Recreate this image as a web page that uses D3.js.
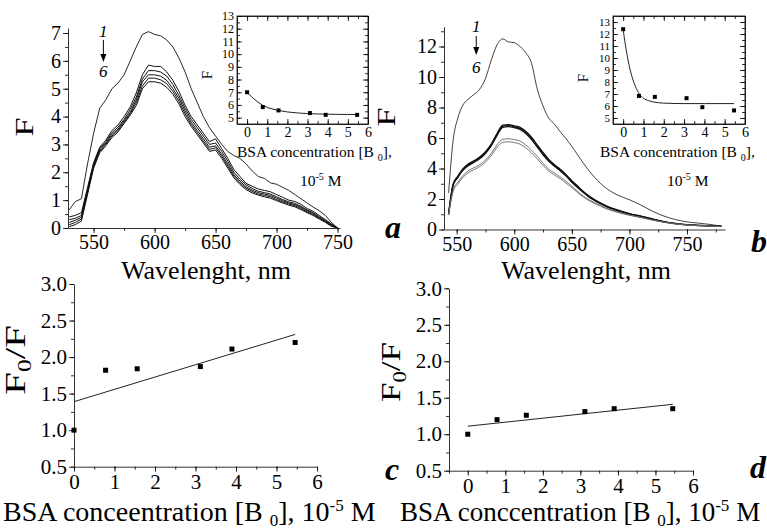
<!DOCTYPE html>
<html>
<head>
<meta charset="utf-8">
<script src="https://cdn.jsdelivr.net/npm/d3@7"></script>
<style>
  body { margin: 0; background: #fff; }
  svg, svg text { font-family: "Liberation Serif", "DejaVu Serif", serif; fill: #000; }
</style>
</head>
<body>
<script>
// ---- data ----
const wlA = [530,535,540,545,550,555,560,565,570,575,580,585,590,595,600,605,610,615,620,625,
             630,635,640,645,650,655,660,665,670,675,680,685,690,695,700,705,710,715,720,725,
             730,735,740,745,750];
const specA1 = [0.65,0.95,1.05,2.3,3.4,4.3,4.6,5.0,5.2,5.5,6.0,6.5,6.95,7.05,6.95,6.9,6.75,6.5,6.1,5.6,
                5.0,4.5,4.0,3.6,3.3,3.0,2.75,2.6,2.5,2.3,2.05,1.85,1.78,1.62,1.57,1.46,1.35,1.2,1.05,0.9,
                0.75,0.62,0.45,0.2,0.0];
const specA2 = [0.4,0.45,0.55,1.45,2.35,2.9,3.15,3.5,3.7,4.0,4.35,4.85,5.5,5.85,5.8,5.8,5.6,5.3,4.9,4.4,
                4.0,3.7,3.4,3.1,3.2,2.85,2.5,2.1,1.85,1.6,1.5,1.4,1.35,1.3,1.2,1.1,1.0,0.95,0.85,0.7,
                0.6,0.45,0.3,0.15,0.0];
const specA3 = [0.3,0.35,0.45,1.38,2.3,2.85,3.1,3.42,3.62,3.9,4.25,4.7,5.35,5.65,5.65,5.6,5.45,5.15,4.75,4.3,
                3.9,3.6,3.3,3.0,3.05,2.75,2.4,2.0,1.75,1.55,1.42,1.32,1.27,1.22,1.12,1.02,0.94,0.88,0.78,0.65,
                0.55,0.4,0.27,0.12,0.0];
const specA4 = [0.2,0.28,0.38,1.32,2.25,2.8,3.05,3.36,3.55,3.85,4.15,4.6,5.25,5.5,5.5,5.45,5.3,5.0,4.65,4.2,
                3.8,3.5,3.2,2.9,2.95,2.65,2.3,1.92,1.68,1.48,1.36,1.27,1.22,1.17,1.07,0.98,0.9,0.84,0.74,0.62,
                0.52,0.38,0.25,0.1,0.0];
const specA5 = [0.12,0.2,0.32,1.27,2.2,2.75,3.0,3.3,3.5,3.8,4.1,4.5,5.1,5.38,5.38,5.32,5.18,4.9,4.55,4.1,
                3.72,3.42,3.12,2.82,2.88,2.58,2.22,1.86,1.62,1.43,1.31,1.22,1.17,1.12,1.02,0.94,0.86,0.8,0.7,0.58,
                0.48,0.35,0.22,0.08,0.0];
const specA6 = [0.05,0.12,0.25,1.2,2.15,2.7,2.95,3.25,3.45,3.75,4.05,4.4,5.0,5.25,5.25,5.2,5.05,4.8,4.45,4.0,
                3.65,3.35,3.05,2.75,2.8,2.5,2.15,1.8,1.56,1.38,1.26,1.18,1.12,1.07,0.98,0.9,0.82,0.76,0.66,0.55,
                0.45,0.32,0.2,0.06,0.0];

const wlB = [543,547,551,555,560,565,570,575,580,585,590,595,600,605,610,615,620,625,630,635,
             640,645,650,655,660,665,670,680,690,700,710,720,730,740,750,760,770,780];
const specB1 = [2.4,5.9,7.3,8.1,8.55,8.85,9.2,9.9,11.1,12.1,12.5,12.3,12.25,12.0,11.6,10.9,9.2,8.1,7.3,6.9,
                6.4,5.95,5.45,4.9,4.35,3.85,3.4,2.7,2.25,1.95,1.6,1.2,0.88,0.65,0.5,0.42,0.33,0.22];
const specB2 = [1.06,3.0,3.5,3.95,4.3,4.5,4.75,5.1,5.6,6.3,6.85,6.88,6.8,6.7,6.45,6.05,5.55,5.05,4.6,4.25,
                3.95,3.6,3.2,2.85,2.5,2.2,1.95,1.55,1.27,1.05,0.88,0.7,0.52,0.4,0.32,0.28,0.25,0.22];
const specB3 = [1.02,2.95,3.45,3.9,4.24,4.45,4.7,5.05,5.55,6.22,6.78,6.82,6.74,6.63,6.38,5.98,5.48,4.98,4.54,4.2,
                3.9,3.55,3.15,2.8,2.46,2.16,1.92,1.52,1.25,1.03,0.86,0.68,0.51,0.39,0.31,0.27,0.24,0.21];
const specB4 = [0.98,2.9,3.4,3.84,4.18,4.4,4.64,4.98,5.48,6.15,6.7,6.75,6.68,6.56,6.3,5.9,5.4,4.9,4.47,4.14,
                3.84,3.5,3.1,2.75,2.42,2.12,1.88,1.49,1.22,1.01,0.84,0.66,0.5,0.38,0.3,0.26,0.23,0.2];
const specB5 = [1.0,2.6,3.1,3.5,3.85,4.05,4.25,4.55,5.0,5.55,5.92,5.95,5.9,5.8,5.55,5.2,4.8,4.35,3.95,3.7,
                3.45,3.15,2.85,2.5,2.2,1.95,1.75,1.4,1.15,0.95,0.8,0.63,0.48,0.37,0.3,0.26,0.23,0.2];
const specB6 = [0.95,2.5,2.98,3.38,3.72,3.92,4.12,4.42,4.85,5.38,5.72,5.75,5.7,5.6,5.36,5.02,4.62,4.2,3.82,3.57,
                3.33,3.04,2.75,2.42,2.13,1.89,1.7,1.36,1.12,0.93,0.78,0.61,0.47,0.36,0.29,0.25,0.22,0.19];

const conc = [0, 0.78, 1.56, 3.12, 3.9, 5.46];
const insetA = [7.0, 5.83, 5.57, 5.36, 5.22, 5.22];
const insetB = [12.4, 6.84, 6.76, 6.65, 5.9, 5.63];
const fitAx = [0,0.25,0.5,0.75,1,1.5,2,2.5,3,3.5,4,4.5,5,5.46];
const fitAy = [7.0,6.6,6.27,6.0,5.8,5.58,5.45,5.37,5.32,5.29,5.27,5.26,5.25,5.25];
const fitBx = [0,0.1,0.2,0.3,0.4,0.5,0.6,0.8,1.0,1.25,1.5,2.0,2.5,3,4,5.46];
const fitBy = [12.4,11.2,10.2,9.35,8.65,8.1,7.65,7.0,6.65,6.45,6.33,6.24,6.21,6.2,6.2,6.2];

const ratioC = [1.0, 1.82, 1.84, 1.87, 2.11, 2.2];
const ratioD = [1.0, 1.2, 1.26, 1.31, 1.35, 1.35];
const lineCx = [0, 5.46], lineCy = [1.39, 2.31];
const lineDx = [0, 5.46], lineDy = [1.11, 1.41];

const FONT = '"Liberation Serif", "DejaVu Serif", serif';

// ---- canvas ----
const svg = d3.select("body").append("svg")
  .attr("width", 767).attr("height", 529)
  .attr("font-family", FONT);

function axis(g, orient, scale, pos, majors, minors, fmt, fs, inner) {
  const make = {left: d3.axisLeft, right: d3.axisRight, top: d3.axisTop, bottom: d3.axisBottom}[orient];
  const tr = (orient == "left" || orient == "right") ? `translate(${pos},0)` : `translate(0,${pos})`;
  const s = inner ? -1 : 1;
  const gm = g.append("g").attr("transform", tr)
    .call(make(scale).tickValues(minors).tickSize(s * 3).tickSizeOuter(0).tickFormat(""));
  gm.select(".domain").remove();
  const ga = g.append("g").attr("transform", tr)
    .call(make(scale).tickValues(majors).tickSize(s * 5).tickSizeOuter(0).tickPadding(inner ? 3 : 2).tickFormat(fmt));
  ga.attr("font-family", FONT).attr("font-size", fs);
  ga.selectAll("text").attr("font-family", FONT).style("font-size", fs + "px");
  g.selectAll("line, path").attr("stroke", "#000").attr("stroke-width", 0.8);
  return ga;
}

function label(x, y, parts, fs, opt = {}) {
  const t = svg.append("text").attr("x", x).attr("y", y).attr("font-size", fs)
    .attr("font-family", FONT)
    .attr("text-anchor", opt.anchor || "start");
  if (opt.rotate) t.attr("transform", `rotate(-90,${x},${y})`);
  if (opt.style) t.attr("font-style", opt.style);
  if (opt.weight) t.attr("font-weight", opt.weight);
  if (opt.len) t.attr("textLength", opt.len).attr("lengthAdjust", "spacingAndGlyphs");
  parts.forEach(p => {
    const sp = t.append("tspan").text(p[0]).attr("dy", p[1] || 0);
    if (p[2]) sp.attr("font-size", p[2]);
  });
  return t;
}

function arrow(x, y1, y2) {
  svg.append("line").attr("x1", x).attr("x2", x).attr("y1", y1).attr("y2", y2 - 6)
    .attr("stroke", "#000").attr("stroke-width", 1);
  svg.append("path").attr("d", `M${x - 3},${y2 - 8}L${x + 3},${y2 - 8}L${x},${y2}Z`).attr("fill", "#000");
}

const range = (a, b, s) => d3.range(a, b + s / 2, s);

// ---- panel a ----
const xA = d3.scaleLinear().domain([529, 752]).range([68, 340]);
const yA = d3.scaleLinear().domain([0, 7.18]).range([228, 28]);
const gA = svg.append("g");
axis(gA, "left", yA, 68, range(0, 7, 1), range(0, 7, 0.5), d3.format("d"), 20);
axis(gA, "bottom", xA, 228, range(550, 750, 50), range(550, 750, 25), d3.format("d"), 20);
const lineA = d3.line().x((d, i) => xA(wlA[i])).y(d => yA(d));
[specA1, specA2, specA3, specA4, specA5, specA6].forEach((s, k) => {
  gA.append("path").attr("d", lineA(s)).attr("fill", "none")
    .attr("stroke", "#111").attr("stroke-width", k == 0 ? 0.9 : 1);
});
label(33, 127, [["F"]], 26, {anchor: "middle", rotate: true, len: 19});
label(206, 279, [["Wavelenght, nm"]], 26, {anchor: "middle"});
label(xA(558), yA(6.86), [["1"]], 17, {anchor: "middle", style: "italic"});
arrow(xA(558), yA(6.75), yA(5.96));
label(xA(558), yA(5.42), [["6"]], 17, {anchor: "middle", style: "italic"});

// inset a
const xIa = d3.scaleLinear().domain([-0.5, 6]).range([237, 368]);
const yIa = d3.scaleLinear().domain([4.5, 13]).range([124, 16]);
const gIa = svg.append("g");
gIa.append("rect").attr("x", 237).attr("y", 16).attr("width", 131).attr("height", 108)
  .attr("fill", "#fff").attr("stroke", "#000").attr("stroke-width", 0.8);
axis(gIa, "left", yIa, 237, range(5, 13, 1), range(5, 13, 0.5), d3.format("d"), 12, true);
axis(gIa, "right", yIa, 368, range(5, 13, 1), range(5, 13, 0.5), "", 12, true);
axis(gIa, "bottom", xIa, 124, range(0, 6, 1), range(0, 6, 0.5), d3.format("d"), 14, true);
axis(gIa, "top", xIa, 16, range(0, 6, 1), range(0, 6, 0.5), "", 14, true);
gIa.append("path").attr("d", d3.line().x((d, i) => xIa(fitAx[i])).y(d => yIa(d))(fitAy))
  .attr("fill", "none").attr("stroke", "#222").attr("stroke-width", 1);
gIa.selectAll(".pt").data(insetA).join("rect").attr("class", "pt")
  .attr("x", (d, i) => xIa(conc[i]) - 2).attr("y", d => yIa(d) - 2)
  .attr("width", 4).attr("height", 4).attr("fill", "#000");
label(212, 75, [["F"]], 15, {anchor: "middle", rotate: true});
label(237, 157, [["BSA concentration [B "], ["0", 4, 10], ["],", -4]], 15.5);
label(300, 186, [["10"], ["-5", -6, 10], [" M", 6]], 15.5);
label(393, 238, [["a"]], 32, {style: "italic", weight: "bold", anchor: "middle"});

// ---- panel b ----
const xB = d3.scaleLinear().domain([539, 783]).range([444, 725]);
const yB = d3.scaleLinear().domain([0, 13.3]).range([229.5, 26.7]);
const gB = svg.append("g");
axis(gB, "left", yB, 444, range(0, 12, 2), range(0, 13, 1), d3.format("d"), 20);
axis(gB, "bottom", xB, 229.5, range(550, 750, 50), range(550, 775, 25), d3.format("d"), 20);
const lineB = d3.line().x((d, i) => xB(wlB[i])).y(d => yB(d)).curve(d3.curveMonotoneX);
[specB1, specB2, specB3, specB4, specB5, specB6].forEach((s, k) => {
  gB.append("path").attr("d", lineB(s)).attr("fill", "none")
    .attr("stroke", k >= 4 ? "#666" : "#111").attr("stroke-width", k == 0 ? 0.8 : (k >= 4 ? 0.9 : 1.2));
});
label(395, 117, [["F"]], 26, {anchor: "middle", rotate: true, len: 19});
label(586, 279, [["Wavelenght, nm"]], 26, {anchor: "middle"});
label(xB(567), yB(12.95), [["1"]], 17, {anchor: "middle", style: "italic"});
arrow(xB(567), yB(12.69), yB(11.44));
label(xB(567), yB(10.26), [["6"]], 17, {anchor: "middle", style: "italic"});

// inset b
const xIb = d3.scaleLinear().domain([-0.5, 6]).range([613, 745]);
const yIb = d3.scaleLinear().domain([4.5, 13.5]).range([124, 16]);
const gIb = svg.append("g");
gIb.append("rect").attr("x", 613).attr("y", 16).attr("width", 132).attr("height", 108)
  .attr("fill", "#fff").attr("stroke", "#000").attr("stroke-width", 0.8);
axis(gIb, "left", yIb, 613, range(5, 13, 1), range(5, 13, 0.5), d3.format("d"), 11, true);
axis(gIb, "right", yIb, 745, range(5, 13, 1), range(5, 13, 0.5), "", 11, true);
axis(gIb, "bottom", xIb, 124, range(0, 6, 1), range(0, 6, 0.5), d3.format("d"), 14, true);
axis(gIb, "top", xIb, 16, range(0, 6, 1), range(0, 6, 0.5), "", 14, true);
gIb.append("path").attr("d", d3.line().x((d, i) => xIb(fitBx[i])).y(d => yIb(d)).curve(d3.curveMonotoneX)(fitBy))
  .attr("fill", "none").attr("stroke", "#222").attr("stroke-width", 1);
gIb.selectAll(".pt").data(insetB).join("rect").attr("class", "pt")
  .attr("x", (d, i) => xIb(conc[i]) - 2).attr("y", d => yIb(d) - 2)
  .attr("width", 4).attr("height", 4).attr("fill", "#000");
label(588, 78, [["F"]], 15, {anchor: "middle", rotate: true});
label(600, 157, [["BSA concentration [B "], ["0", 4, 10], ["],", -4]], 15.5);
label(667, 186, [["10"], ["-5", -6, 10], [" M", 6]], 15.5);
label(759, 252, [["b"]], 32, {style: "italic", weight: "bold", anchor: "middle"});

// ---- panel c ----
const xC = d3.scaleLinear().domain([0, 6]).range([74, 317]);
const yC = d3.scaleLinear().domain([0.5, 3.0]).range([466.7, 284]);
const gC = svg.append("g");
axis(gC, "left", yC, 74, range(0.5, 3.0, 0.5), range(0.5, 3.0, 0.25), d3.format(".1f"), 21);
axis(gC, "bottom", xC, 466.7, range(0, 6, 1), range(0, 6, 0.5), d3.format("d"), 21);
gC.append("path").attr("d", d3.line().x((d, i) => xC(lineCx[i])).y(d => yC(d))(lineCy))
  .attr("stroke", "#222").attr("stroke-width", 1).attr("fill", "none");
gC.selectAll(".pt").data(ratioC).join("rect").attr("class", "pt")
  .attr("x", (d, i) => xC(conc[i]) - 2.5).attr("y", d => yC(d) - 2.5)
  .attr("width", 5).attr("height", 5).attr("fill", "#000");
label(25, 360, [["F"], ["0", 6, 18], ["/F", -6]], 29, {anchor: "middle", rotate: true, len: 70});
label(3, 521, [["BSA conceentration [B "], ["0", 5, 17], ["], 10", -5], ["-5", -10, 17], [" M", 10]], 28);

// ---- panel d ----
const xD = d3.scaleLinear().domain([-0.5, 6]).range([449, 693]);
const yD = d3.scaleLinear().domain([0.5, 3.0]).range([470.7, 288.3]);
const gD = svg.append("g");
axis(gD, "left", yD, 449, range(0.5, 3.0, 0.5), range(0.5, 3.0, 0.25), d3.format(".1f"), 21);
axis(gD, "bottom", xD, 470.7, range(0, 6, 1), range(-0.5, 6, 0.5), d3.format("d"), 21);
gD.append("path").attr("d", d3.line().x((d, i) => xD(lineDx[i])).y(d => yD(d))(lineDy))
  .attr("stroke", "#222").attr("stroke-width", 1).attr("fill", "none");
gD.selectAll(".pt").data(ratioD).join("rect").attr("class", "pt")
  .attr("x", (d, i) => xD(conc[i]) - 2.5).attr("y", d => yD(d) - 2.5)
  .attr("width", 5).attr("height", 5).attr("fill", "#000");
label(400, 372, [["F"], ["0", 6, 18], ["/F", -6]], 28, {anchor: "middle", rotate: true, len: 60});
label(400, 521, [["BSA conccentration [B "], ["0", 5, 17], ["], 10", -5], ["-5", -10, 17], [" M", 10]], 27);
label(392, 480, [["c"]], 32, {style: "italic", weight: "bold", anchor: "middle"});
label(758, 478, [["d"]], 32, {style: "italic", weight: "bold", anchor: "middle"});
</script>
</body>
</html>
